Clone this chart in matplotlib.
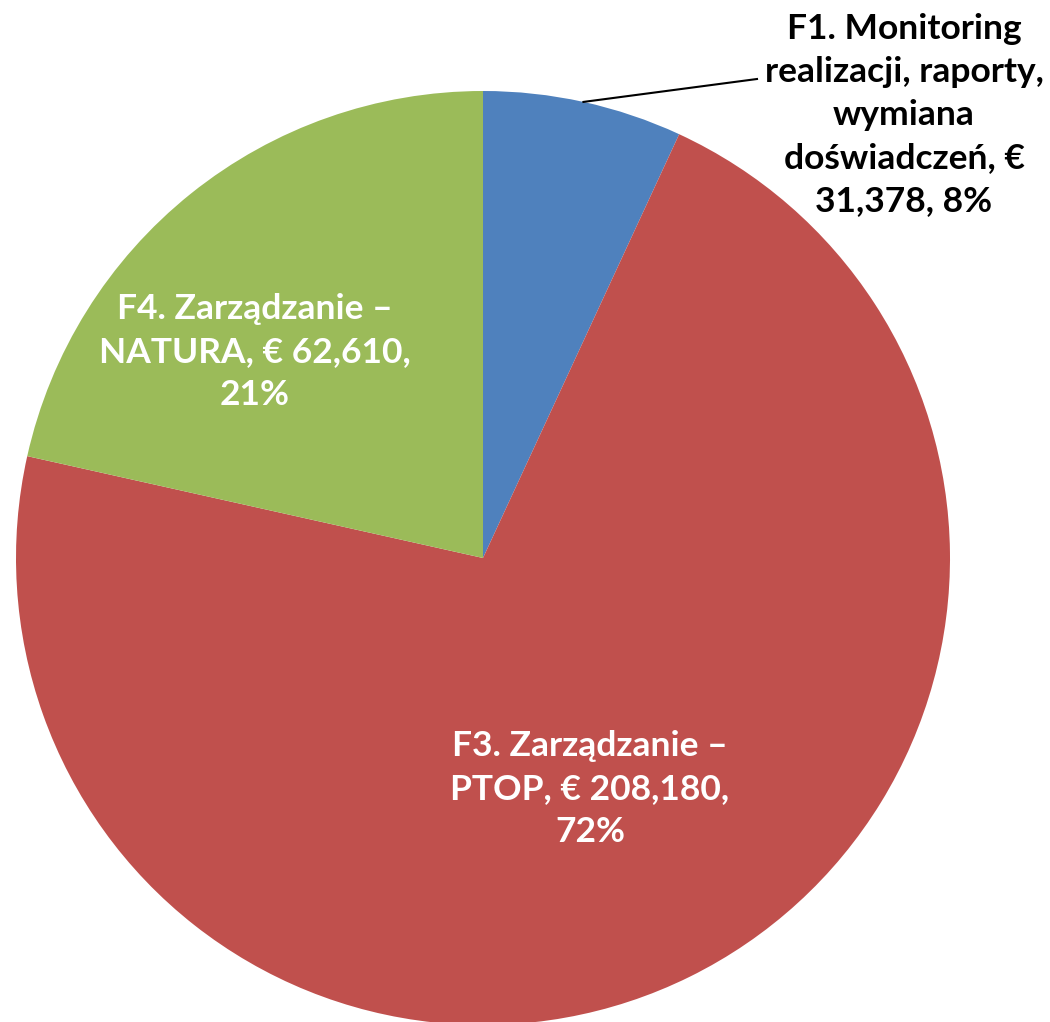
import numpy as np
import matplotlib.pyplot as plt

plt.rcParams['font.family'] = ['Lato', 'DejaVu Sans']

# slice shares as drawn (clockwise from 12 o'clock)
categories = ["F1", "F3", "F4"]
shares = [6.9, 71.6, 21.5]
colors = ["#4F81BD", "#C0504D", "#9BBB59"]
labels = [
    "F1. Monitoring\nrealizacji, raporty,\nwymiana\ndoświadczeń, €\n31,378, 8%",
    "F3. Zarządzanie –\nPTOP, € 208,180,\n72%",
    "F4. Zarządzanie –\nNATURA, € 62,610,\n21%",
]

W, H = 1050, 1022
fig = plt.figure(figsize=(W / 100, H / 100), dpi=100)
ax = fig.add_axes([0, 0, 1, 1])

cx, cy, r = 483, H - 558, 467
wedges, _ = ax.pie(shares, colors=colors, startangle=90, counterclock=False,
                   center=(cx, cy), radius=r, wedgeprops=dict(linewidth=0))
ax.set_xlim(0, W)
ax.set_ylim(0, H)
ax.set_aspect("equal")
ax.axis("off")

txt = dict(fontsize=25.5, fontweight="bold", ha="center", va="center", linespacing=1.42)

# F1 label outside with leader line from the slice middle
mid = np.deg2rad((wedges[0].theta1 + wedges[0].theta2) / 2)
x0, y0 = cx + r * np.cos(mid), cy + r * np.sin(mid)
ax.plot([x0, 757], [y0, H - 79], color="black", lw=1.5)
ax.text(904, H - 115, labels[0], color="black", **txt)

ax.text(590, H - 789, labels[1], color="white", **txt)
ax.text(255, H - 352, labels[2], color="white", **txt)

fig.savefig("out.png", dpi=100)
